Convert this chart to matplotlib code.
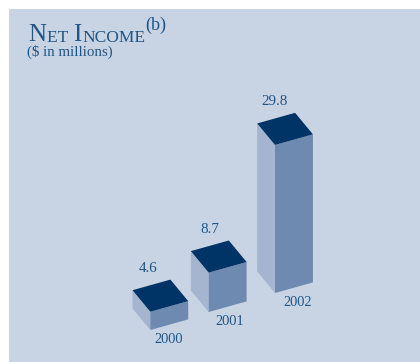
"""Net income, 2000-2002, drawn as oblique 3D columns."""
import matplotlib
matplotlib.use("Agg")
import matplotlib.pyplot as plt
from matplotlib.patches import Polygon, Rectangle

years = ["2000", "2001", "2002"]
net_income = [4.6, 8.7, 29.8]

W, H = 420, 362
BG = "#c8d3e3"
TOP = "#003366"
FRONT = "#6e8ab0"
SIDE = "#a5b5cf"
INK = "#205586"

# axes are in pixels, y going down
PX_PER_UNIT = 5.15
BASE_VALUE = 1.05
FRONT_CORNER = [(150.3, 330), (208.7, 312), (275, 293)]
LEFT_EDGE = (-17.8, -21.5)
RIGHT_EDGE = (37.9, -10.6)
VALUE_DX = [-2, 1.5, 0]
YEAR_DX = [18.5, 20.5, 22.7]

plt.rcParams["font.family"] = ["Liberation Serif", "DejaVu Serif"]

fig = plt.figure(figsize=(W / 100, H / 100), dpi=100)
ax = fig.add_axes([0, 0, 1, 1])
ax.set_xlim(0, W)
ax.set_ylim(H, 0)
ax.axis("off")
ax.add_patch(Rectangle((9, 9), W - 9, H - 9, fc=BG, ec="none"))


def draw_column(corner, value):
    x, y = corner
    h = (value - BASE_VALUE) * PX_PER_UNIT
    lx, ly = LEFT_EDGE
    rx, ry = RIGHT_EDGE
    ax.add_patch(Polygon([(x, y), (x + lx, y + ly), (x + lx, y + ly - h), (x, y - h)],
                         fc=SIDE, ec="none"))
    ax.add_patch(Polygon([(x, y), (x + rx, y + ry), (x + rx, y + ry - h), (x, y - h)],
                         fc=FRONT, ec="none"))
    ax.add_patch(Polygon([(x, y - h), (x + lx, y + ly - h),
                          (x + lx + rx, y + ly + ry - h), (x + rx, y + ry - h)],
                         fc=TOP, ec="none"))
    return x, y, h


for i, (year, value, corner) in enumerate(zip(years, net_income, FRONT_CORNER)):
    x, y, h = draw_column(corner, value)
    # value above the back-left of the top face, year below the front face
    ax.text(x + VALUE_DX[i], y - h - 43, f"{value:.1f}", color=INK, fontsize=10.8,
            ha="center", va="center")
    ax.text(x + YEAR_DX[i], y + 9.5, year, color=INK, fontsize=10.4,
            ha="center", va="center")

# small-caps title built from two sizes, one piece after the other
pieces = [("N", 18), ("ET ", 12.5), ("I", 18), ("NCOME", 12.5)]
anchor = ax.text(28, 41, pieces[0][0], color=INK, fontsize=pieces[0][1], va="baseline")
for txt, size in pieces[1:]:
    anchor = ax.annotate(txt, xy=(1, 0), xycoords=anchor, xytext=(0.6, 0),
                         textcoords="offset points", color=INK, fontsize=size,
                         va="bottom", ha="left")
ax.annotate("(b)", xy=(1, 0), xycoords=anchor, xytext=(0.3, 9),
            textcoords="offset points", color=INK, fontsize=13, va="bottom", ha="left")
ax.text(27, 52, "($ in millions)", color=INK, fontsize=10.8, va="center")

fig.savefig("out.png", dpi=100)
